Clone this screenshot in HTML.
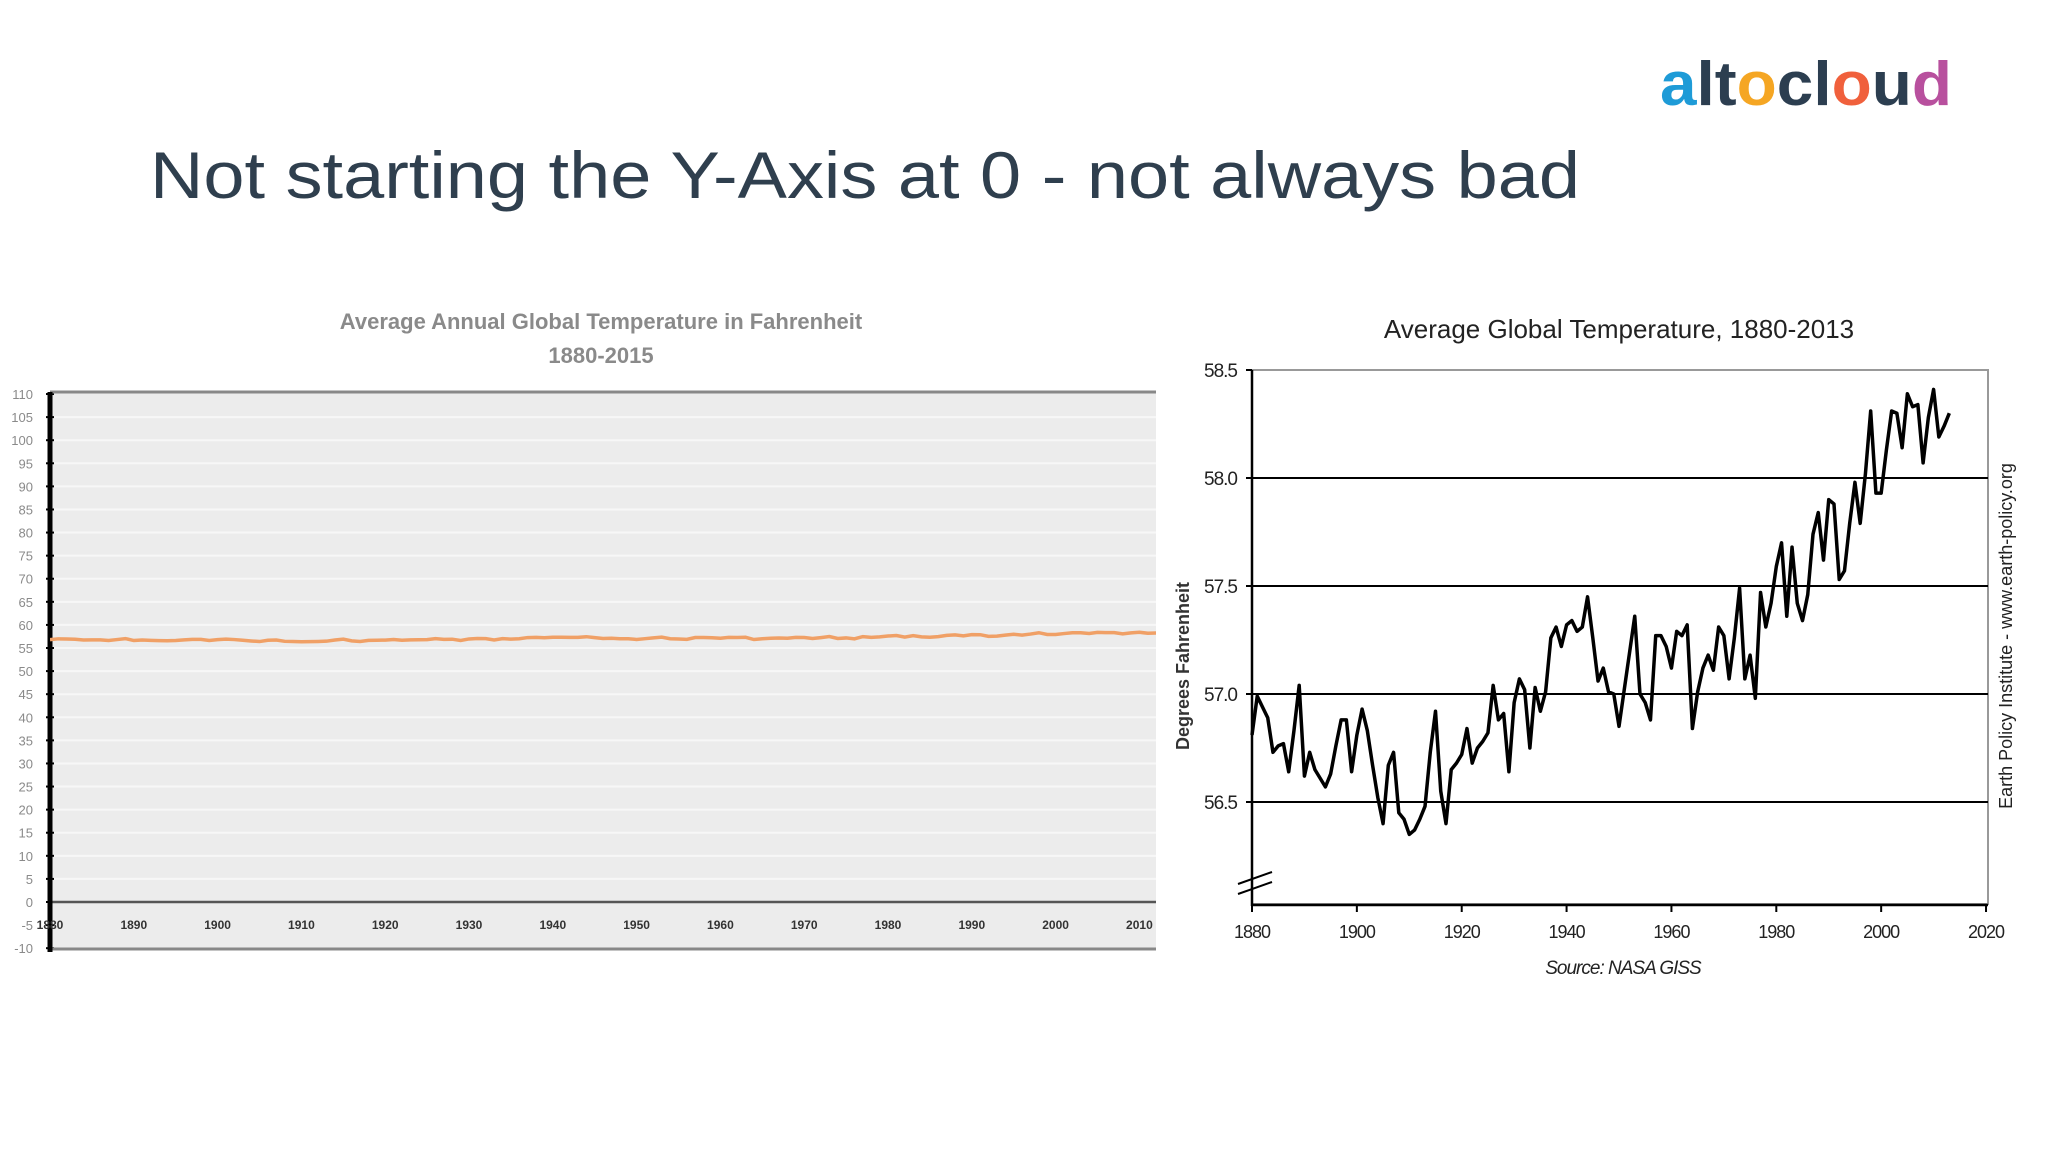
<!DOCTYPE html>
<html><head><meta charset="utf-8"><style>
html,body{margin:0;padding:0;background:#fff;}
svg{display:block;font-family:"Liberation Sans",sans-serif;}
</style></head><body>
<svg id="svg" width="2048" height="1152" viewBox="0 0 2048 1152" xmlns="http://www.w3.org/2000/svg">
<text x="150" y="198" font-size="66" fill="#2f3f4e" textLength="1430" lengthAdjust="spacingAndGlyphs">Not starting the Y-Axis at 0 - not always bad</text>
<text x="1660" y="105" font-size="62" font-weight="bold" textLength="292" lengthAdjust="spacingAndGlyphs"><tspan fill="#1e9bd7">a</tspan><tspan fill="#2c3e50">lt</tspan><tspan fill="#f5a623">o</tspan><tspan fill="#2c3e50">cl</tspan><tspan fill="#f0603c">o</tspan><tspan fill="#2c3e50">u</tspan><tspan fill="#b8509e">d</tspan></text>
<g id="left"></g>
<g id="right"></g>
</svg>
<script>
const years = [];
for (let y = 1880; y <= 2015; y++) years.push(y);
const temps = [56.81,56.99,56.94,56.89,56.73,56.76,56.77,56.64,56.83,57.04,
56.62,56.73,56.65,56.61,56.57,56.63,56.76,56.88,56.88,56.64,
56.81,56.93,56.83,56.67,56.52,56.40,56.67,56.73,56.45,56.42,
56.35,56.37,56.42,56.48,56.73,56.92,56.55,56.40,56.65,56.68,
56.72,56.84,56.68,56.75,56.78,56.82,57.04,56.88,56.91,56.64,
56.96,57.07,57.02,56.75,57.03,56.92,57.01,57.26,57.31,57.22,
57.32,57.34,57.29,57.31,57.45,57.26,57.06,57.12,57.01,57.00,
56.85,57.02,57.19,57.36,57.00,56.96,56.88,57.27,57.27,57.22,
57.12,57.29,57.27,57.32,56.84,57.01,57.12,57.18,57.11,57.31,
57.27,57.07,57.26,57.49,57.07,57.18,56.98,57.47,57.31,57.42,
57.59,57.70,57.36,57.68,57.42,57.34,57.46,57.74,57.84,57.62,
57.90,57.88,57.53,57.57,57.79,57.98,57.79,58.02,58.31,57.93,
57.93,58.13,58.31,58.30,58.14,58.39,58.33,58.34,58.07,58.28,
58.41,58.19,58.24,58.30,58.45,58.62];
const leftYTicks = [110,105,100,95,90,85,80,75,70,65,60,55,50,45,40,35,30,25,20,15,10,5,0,-5,-10];
const leftXTicks = [1880,1890,1900,1910,1920,1930,1940,1950,1960,1970,1980,1990,2000,2010];
const rightYTicks = [58.5,58.0,57.5,57.0,56.5];
const rightXTicks = [1880,1900,1920,1940,1960,1980,2000,2020];
const rightLastYear = 2013;

const NS = "http://www.w3.org/2000/svg";
function mk(parent, tag, attrs, text) {
  const e = document.createElementNS(NS, tag);
  for (const k in attrs) e.setAttribute(k, attrs[k]);
  if (text !== undefined) e.textContent = text;
  parent.appendChild(e);
  return e;
}

// LEFT chart
const L = document.getElementById('left');
const lx = y => 50 + (y - 1880) * 8.38;
const ly = v => 902 - v * 4.618;
let e;
e = mk(L, 'rect', {x:50, y:392, width:1106, height:558, fill:'#ececec'});


leftYTicks.forEach(t => {
  if (t > 0 && t < 110) {
    e = mk(L, 'line', {x1:52, x2:1156, y1:ly(t), y2:ly(t), stroke:'#f7f7f7', 'stroke-width':2});
    
    
  }
  e = mk(L, 'text', {x:33, y:ly(t)+5, 'font-size':13, fill:'#8a8a8a', 'text-anchor':'end'}, String(t));
  
  
  e = mk(L, 'line', {x1:46, x2:54, y1:ly(t), y2:ly(t), stroke:'#000', 'stroke-width':2});
  
  
});
e = mk(L, 'line', {x1:50, x2:1156, y1:392, y2:392, stroke:'#888', 'stroke-width':3});


e = mk(L, 'line', {x1:50, x2:1156, y1:ly(0), y2:ly(0), stroke:'#555', 'stroke-width':2.5});


e = mk(L, 'line', {x1:50, x2:1156, y1:949, y2:949, stroke:'#888', 'stroke-width':3});


e = mk(L, 'line', {x1:50, x2:50, y1:392, y2:952, stroke:'#000', 'stroke-width':5});


leftXTicks.forEach(t => {
  e = mk(L, 'text', {x:lx(t), y:929, 'font-size':12, 'font-weight':'bold', fill:'#333', 'text-anchor':'middle'}, String(t));
  
  
});
e = mk(L, 'defs', {});
mk(e, 'clipPath', {id:'lclip'}).appendChild(Object.assign(document.createElementNS(NS,'rect'),{}));
document.querySelector('#lclip rect').setAttribute('x', 50);
document.querySelector('#lclip rect').setAttribute('y', 392);
document.querySelector('#lclip rect').setAttribute('width', 1106);
document.querySelector('#lclip rect').setAttribute('height', 558);
e = mk(L, 'polyline', {points: years.map((y,i) => lx(y)+','+ly(temps[i])).join(' '), fill:'none', stroke:'#f0a066', 'stroke-width':3.5, 'clip-path':'url(#lclip)'});


e = mk(L, 'text', {x:601, y:329, 'font-size':22, 'font-weight':'bold', fill:'#8a8a8a', 'text-anchor':'middle'}, 'Average Annual Global Temperature in Fahrenheit');


e = mk(L, 'text', {x:601, y:363, 'font-size':22, 'font-weight':'bold', fill:'#8a8a8a', 'text-anchor':'middle'}, '1880-2015');



// RIGHT chart
const R = document.getElementById('right');
const rx = y => 1252 + (y - 1880) * 5.243;
const ry = v => 478 - (v - 58.0) * 216;
e = mk(R, 'rect', {x:1252, y:ry(58.5), width:736, height:904-ry(58.5), fill:'none', stroke:'#999', 'stroke-width':2});


rightYTicks.forEach(t => {
  if (t < 58.5) {
    e = mk(R, 'line', {x1:1252, x2:1988, y1:ry(t), y2:ry(t), stroke:'#000', 'stroke-width':2});
    
    
  }
  e = mk(R, 'line', {x1:1246, x2:1252, y1:ry(t), y2:ry(t), stroke:'#000', 'stroke-width':2});
  
  
  e = mk(R, 'text', {x:1237, y:ry(t)+7, 'font-size':19, fill:'#222', 'text-anchor':'end', 'letter-spacing':'-1'}, t.toFixed(1));
  
  
});
e = mk(R, 'line', {x1:1252, x2:1252, y1:ry(58.5), y2:906, stroke:'#000', 'stroke-width':2.5});


e = mk(R, 'line', {x1:1252, x2:1988, y1:905, y2:905, stroke:'#000', 'stroke-width':2.5});


e = mk(R, 'path', {d:'M1238,884 L1272,872 M1238,894 L1272,882', stroke:'#000', 'stroke-width':2, fill:'none'});


rightXTicks.forEach(t => {
  e = mk(R, 'line', {x1:rx(t), x2:rx(t), y1:905, y2:912, stroke:'#000', 'stroke-width':2});
  
  
  e = mk(R, 'text', {x:rx(t), y:938, 'font-size':18, fill:'#222', 'text-anchor':'middle', 'letter-spacing':'-1'}, String(t));
  
  
});
const rPts = [];
years.forEach((y,i) => { if (y <= rightLastYear) rPts.push(rx(y)+','+ry(temps[i])); });
e = mk(R, 'polyline', {points: rPts.join(' '), fill:'none', stroke:'#000', 'stroke-width':3.5, 'stroke-linejoin':'round'});


e = mk(R, 'text', {x:1619, y:338, 'font-size':26, fill:'#222', 'text-anchor':'middle'}, 'Average Global Temperature, 1880-2013');


e = mk(R, 'text', {x:0, y:0, 'font-size':18, 'font-weight':'bold', fill:'#333', 'text-anchor':'middle', transform:'translate(1189,666) rotate(-90)'}, 'Degrees Fahrenheit');


e = mk(R, 'text', {x:0, y:0, 'font-size':18, fill:'#222', 'text-anchor':'middle', transform:'translate(2012,636) rotate(-90)'}, 'Earth Policy Institute - www.earth-policy.org');


e = mk(R, 'text', {x:1623, y:974, 'font-size':19, 'font-style':'italic', fill:'#222', 'text-anchor':'middle', 'letter-spacing':'-1'}, 'Source: NASA GISS');


</script>
</body></html>
